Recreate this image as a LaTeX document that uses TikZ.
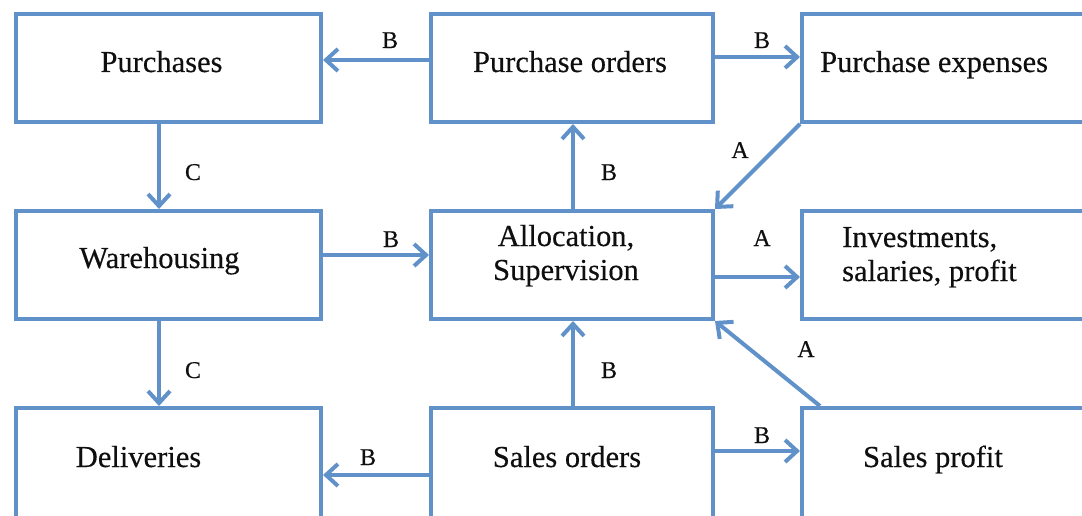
\documentclass[tikz,border=0pt]{standalone}
\usepackage{fontspec}
\setmainfont{Liberation Serif}
\newfontfamily\diafont{Liberation Serif}[FakeBold=0.35]
\usetikzlibrary{arrows.meta}
\definecolor{boxblue}{RGB}{96,145,200}
\definecolor{txtcol}{RGB}{15,15,15}
\begin{document}
\begin{tikzpicture}[x=1pt,y=-1pt,
  box/.style={draw=boxblue, line width=4pt, rectangle, inner sep=0pt},
  arr/.style={draw=boxblue, line width=4pt, -{Straight Barb[length=12pt,width=22pt]}},
  txt/.style={font=\diafont\fontsize{30.5}{34}\selectfont, text=txtcol, inner sep=0pt, anchor=base},
  lbl/.style={font=\diafont\fontsize{24}{28}\selectfont, text=txtcol, inner sep=0pt, anchor=base}]
\useasboundingbox (0,0) rectangle (1082,516);
\clip (0,0) rectangle (1082,516);
% boxes
\node[box, minimum width=305pt, minimum height=108pt] (purch) at (168.5,68) {};
\node[box, minimum width=282pt, minimum height=108pt] (po) at (572,68) {};
\node[box, minimum width=298pt, minimum height=108pt] (pe) at (951,68) {};
\node[box, minimum width=305pt, minimum height=108pt] (wh) at (168.5,265) {};
\node[box, minimum width=282pt, minimum height=108pt] (alloc) at (572,265) {};
\node[box, minimum width=298pt, minimum height=108pt] (inv) at (951,265) {};
\node[box, minimum width=305pt, minimum height=122pt] (del) at (168.5,469) {};
\node[box, minimum width=282pt, minimum height=122pt] (so) at (572,469) {};
\node[box, minimum width=298pt, minimum height=122pt] (sp) at (951,469) {};
% texts
\node[txt] (tpurch) at (161.5,72) {Purchases};
\node[txt] (tpo) at (570,72) {Purchase orders};
\node[txt, anchor=base west] (tpe) at (820,72) {Purchase expenses};
\node[txt] (twh) at (159.5,268) {Warehousing};
\node[txt, align=center] (talloc) at (566,280) {Allocation,\\Supervision};
\node[txt, align=left, anchor=base west] (tinv) at (842,281) {Investments,\\salaries, profit};
\node[txt] (tdel) at (138.5,467) {Deliveries};
\node[txt] (tso) at (567,467) {Sales orders};
\node[txt] (tsp) at (933,467) {Sales profit};
% connectors
\draw[arr] ([yshift=8pt]po.west) -- ([yshift=8pt]purch.east);
\draw[arr] ([yshift=11pt]po.east) -- ([yshift=11pt]pe.west);
\draw[arr] ([xshift=-9.5pt]purch.south) -- ([xshift=-9.5pt]wh.north);
\draw[arr] ([yshift=10pt]wh.east) -- ([yshift=10pt]alloc.west);
\draw[arr] ([xshift=1pt]alloc.north) -- ([xshift=1pt]po.south);
\draw[arr] (pe.south west) -- (alloc.north east);
\draw[arr] ([yshift=-12pt]alloc.east) -- ([yshift=-12pt]inv.west);
\draw[arr] ([xshift=20pt]sp.north west) -- (alloc.south east);
\draw[arr] ([xshift=-9.5pt]wh.south) -- ([xshift=-9.5pt]del.north);
\draw[arr] ([xshift=1pt]so.north) -- ([xshift=1pt]alloc.south);
\draw[arr] ([yshift=-6pt]so.west) -- ([yshift=-6pt]del.east);
\draw[arr] ([yshift=18pt]so.east) -- ([yshift=18pt]sp.west);
% labels
\node[lbl] (l1) at (390,48) {B};
\node[lbl] (l2) at (762,48) {B};
\node[lbl] (l3) at (193,180) {C};
\node[lbl] (l4) at (391,247) {B};
\node[lbl] (l5) at (609,180) {B};
\node[lbl] (l6) at (740,158) {A};
\node[lbl] (l7) at (762,246) {A};
\node[lbl] (l8) at (806,357) {A};
\node[lbl] (l9) at (193,378) {C};
\node[lbl] (l10) at (609,378) {B};
\node[lbl] (l11) at (368,465) {B};
\node[lbl] (l12) at (762,443) {B};
\end{tikzpicture}
\end{document}
